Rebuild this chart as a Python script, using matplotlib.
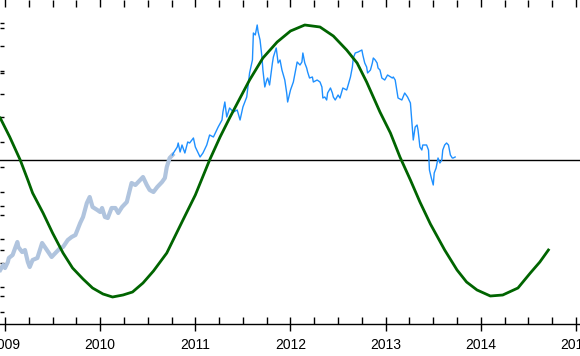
import matplotlib
matplotlib.use('Agg')
import matplotlib.pyplot as plt
from matplotlib.ticker import MultipleLocator

# Data (years, detrended value)

early_years = [2008.95, 2008.98, 2009.00, 2009.03, 2009.04, 2009.08, 2009.13, 2009.14,
               2009.18, 2009.21, 2009.24, 2009.26, 2009.29, 2009.34, 2009.39, 2009.44,
               2009.49, 2009.53, 2009.58, 2009.61, 2009.66, 2009.70, 2009.74, 2009.79,
               2009.82, 2009.86, 2009.89, 2009.92, 2009.97, 2010.00, 2010.02, 2010.05,
               2010.08, 2010.12, 2010.16, 2010.19, 2010.23, 2010.28, 2010.33, 2010.37,
               2010.40, 2010.45, 2010.49, 2010.52, 2010.56, 2010.60, 2010.65, 2010.68,
               2010.70, 2010.73, 2010.76]
early_vals = [-11.0, -10.5, -10.8, -10.2, -9.8, -9.5, -8.2, -8.7,
              -9.2, -9.0, -10.2, -10.7, -10.0, -9.8, -8.3, -9.0,
              -9.7, -9.3, -8.8, -8.7, -8.0, -7.7, -7.5, -6.3,
              -5.7, -4.3, -3.7, -4.7, -5.0, -5.2, -4.8, -5.7,
              -5.8, -4.8, -4.8, -5.3, -4.7, -4.2, -2.3, -2.5,
              -2.2, -1.7, -2.5, -3.0, -3.2, -2.7, -2.2, -1.8,
              -0.7, 0.2, 0.5]

late_years = [2010.76, 2010.77, 2010.79, 2010.81, 2010.82, 2010.84, 2010.86, 2010.89,
              2010.92, 2010.94, 2010.98, 2011.00, 2011.05, 2011.08, 2011.12, 2011.15,
              2011.19, 2011.24, 2011.28, 2011.29, 2011.31, 2011.33, 2011.36, 2011.40,
              2011.44, 2011.47, 2011.50, 2011.54, 2011.57, 2011.60, 2011.61, 2011.63,
              2011.65, 2011.66, 2011.68, 2011.70, 2011.71, 2011.73, 2011.75, 2011.76,
              2011.78, 2011.81, 2011.82, 2011.85, 2011.87, 2011.89, 2011.91, 2011.94,
              2011.96, 2011.97, 2012.00, 2012.03, 2012.05, 2012.07, 2012.08, 2012.10,
              2012.12, 2012.13, 2012.15, 2012.17, 2012.18, 2012.20, 2012.23, 2012.24,
              2012.28, 2012.31, 2012.33, 2012.34, 2012.36, 2012.38, 2012.39, 2012.42,
              2012.44, 2012.45, 2012.47, 2012.50, 2012.52, 2012.55, 2012.59, 2012.60,
              2012.63, 2012.65, 2012.66, 2012.68, 2012.71, 2012.75, 2012.76, 2012.78,
              2012.80, 2012.81, 2012.84, 2012.86, 2012.87, 2012.89, 2012.91, 2012.92,
              2012.94, 2012.96, 2012.99, 2013.02, 2013.07, 2013.08, 2013.10, 2013.12,
              2013.13, 2013.17, 2013.20, 2013.23, 2013.26, 2013.28, 2013.29, 2013.31,
              2013.33, 2013.34, 2013.36, 2013.38, 2013.39, 2013.43, 2013.45, 2013.46,
              2013.48, 2013.50, 2013.51, 2013.53, 2013.55, 2013.57, 2013.59, 2013.60,
              2013.62, 2013.64, 2013.66, 2013.68, 2013.70, 2013.71, 2013.73]
late_vals = [0.5, 0.7, 1.0, 1.3, 1.7, 0.8, 1.5, 0.7,
             1.8, 1.7, 2.2, 1.3, 0.3, 0.7, 1.5, 2.5,
             2.3, 3.3, 4.0, 4.8, 5.8, 4.3, 5.2, 4.8,
             5.0, 4.0, 5.3, 6.3, 8.7, 10.0, 12.7, 12.5,
             13.5, 12.8, 12.0, 10.3, 9.0, 7.3, 8.0, 8.2,
             7.5, 9.7, 10.3, 11.2, 9.7, 10.0, 9.0, 8.0,
             6.7, 5.8, 7.0, 7.8, 8.8, 9.8, 9.7, 9.5,
             9.8, 10.7, 9.7, 9.2, 8.8, 8.2, 8.3, 7.8,
             8.0, 7.8, 7.3, 6.2, 6.3, 6.0, 6.7, 7.2,
             6.7, 6.3, 6.0, 6.5, 6.2, 7.2, 7.0, 7.3,
             8.3, 9.3, 10.2, 10.7, 10.8, 11.0, 10.5, 9.7,
             9.3, 8.7, 9.0, 9.7, 10.2, 10.0, 9.7, 9.2,
             9.0, 8.2, 8.0, 8.5, 8.2, 8.3, 8.0, 6.8,
             6.2, 6.0, 6.7, 6.3, 5.7, 3.3, 2.0, 3.3,
             3.5, 3.0, 1.3, 1.0, 1.5, 1.5, 1.0, -1.0,
             -1.8, -2.5, -1.3, -0.8, 0.2, -0.3, 0.0, 1.0,
             1.5, 1.7, 1.5, 0.5, 0.2, 0.2, 0.3]

cycle_years = [2008.95, 2009.05, 2009.16, 2009.24, 2009.29, 2009.40, 2009.50, 2009.61,
               2009.71, 2009.82, 2009.92, 2010.03, 2010.13, 2010.24, 2010.34, 2010.45,
               2010.56, 2010.70, 2010.87, 2011.00, 2011.15, 2011.26, 2011.36, 2011.47,
               2011.57, 2011.71, 2011.86, 2012.00, 2012.15, 2012.31, 2012.45, 2012.59,
               2012.70, 2012.80, 2012.94, 2013.05, 2013.15, 2013.26, 2013.36, 2013.47,
               2013.62, 2013.75, 2013.85, 2013.96, 2014.10, 2014.23, 2014.39, 2014.52,
               2014.62, 2014.71]
cycle_vals = [4.2, 2.3, 0.0, -2.0, -3.3, -5.3, -7.3, -9.3,
              -10.8, -11.9, -12.8, -13.4, -13.7, -13.5, -13.2, -12.3,
              -11.1, -9.3, -6.0, -3.5, 0.0, 2.3, 4.2, 6.2,
              8.0, 10.2, 11.8, 12.9, 13.5, 13.3, 12.4, 11.0,
              9.7, 7.8, 4.8, 2.7, 0.3, -2.0, -4.2, -6.4,
              -9.0, -11.0, -12.2, -13.0, -13.6, -13.5, -12.8, -11.3,
              -10.2, -9.0]

year_ticks = [2009, 2010, 2011, 2012, 2013, 2014, 2015]
y_ticks = [13.7, 13.2, 11.4, 8.9, 8.7, 6.6, 4.3, 1.8, -0.7, -3.2, -4.6,
           -5.5, -7.9, -9.0, -10.3, -12.7, -13.6, -15.2]

# Plot

fig = plt.figure(figsize=(5.8, 3.56), dpi=100)
ax = fig.add_axes([0, 32 / 356, 1, 1 - 32 / 356])

ax.axhline(0, color='black', lw=1.0, zorder=1)
ax.plot(early_years, early_vals, color='#b0c4de', lw=3.0, zorder=2,
        solid_joinstyle='round')
ax.plot(late_years, late_vals, color='#1e90ff', lw=1.0, zorder=3)
ax.plot(cycle_years, cycle_vals, color='#006400', lw=2.0, zorder=4,
        solid_joinstyle='round')

ax.set_xlim(2008.9475, 2015.042)
ax.set_ylim(-16.4, 16.0)

ax.set_xticks(year_ticks)
ax.set_xticklabels([str(y) for y in year_ticks], fontsize=10,
                   fontfamily='Liberation Sans')
ax.xaxis.set_minor_locator(MultipleLocator(0.25))
ax.tick_params(axis='x', which='major', direction='inout', length=10,
               width=1.0, top=True, pad=5)
ax.tick_params(axis='x', which='minor', direction='in', length=5,
               width=1.0, top=True)

ax.set_yticks(y_ticks)
ax.set_yticklabels([])
ax.tick_params(axis='y', which='major', direction='in', length=3, width=1.0)

for side in ['left', 'right', 'top']:
    ax.spines[side].set_visible(False)
ax.spines['bottom'].set_linewidth(1.0)

fig.savefig('out.png', dpi=100)
